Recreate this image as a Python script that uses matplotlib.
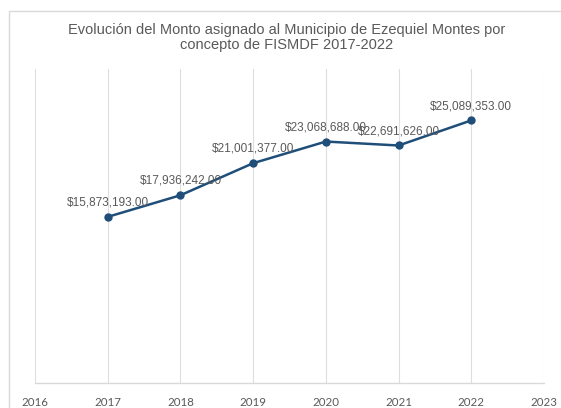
import matplotlib
matplotlib.use("Agg")
import matplotlib.pyplot as plt
from matplotlib.patches import Rectangle
from matplotlib.ticker import FixedLocator, NullLocator

years = [2017, 2018, 2019, 2020, 2021, 2022]
montos = [15873193.00, 17936242.00, 21001377.00, 23068688.00, 22691626.00, 25089353.00]
xticks = [2016, 2017, 2018, 2019, 2020, 2021, 2022, 2023]
title = "Evolución del Monto asignado al Municipio de Ezequiel Montes por\nconcepto de FISMDF 2017-2022"

W, H = 561, 408
fig = plt.figure(figsize=(W / 100, H / 100), dpi=100)
fig.patch.set_facecolor("white")

# outer chart border (cut at right/bottom)
fig.patches.append(Rectangle((9 / W, -0.1), 1.2, (H - 11) / H + 0.1, transform=fig.transFigure,
                             fill=False, edgecolor="#d9d9d9", linewidth=1.0))

ax = fig.add_axes([35 / W, 1 - 383 / H, (544 - 35) / W, (383 - 69) / H])
ax.set_xlim(2016, 2023)
ax.set_ylim(0, 30000000)

ax.plot(years, montos, color="#1f4e79", linewidth=1.8, marker="o", markersize=5, zorder=3)

for x, y in zip(years, montos):
    ax.annotate(f"${y:,.2f}", (x, y), xytext=(0, 6), textcoords="offset points",
                ha="center", va="bottom", fontsize=8.5, color="#595959",
                family="Liberation Sans")

ax.xaxis.set_major_locator(FixedLocator(xticks))
ax.set_xticklabels([str(t) for t in xticks], fontsize=8.3, color="#595959", family="Lato")
ax.yaxis.set_major_locator(NullLocator())
ax.tick_params(axis="x", length=0, pad=10)
ax.grid(axis="x", color="#dedede", linewidth=0.8)
ax.set_axisbelow(True)
for s in ["top", "right", "left"]:
    ax.spines[s].set_visible(False)
ax.spines["bottom"].set_color("#d9d9d9")
ax.spines["bottom"].set_linewidth(1.0)

fig.text(287 / W, 1 - 37.5 / H, title, ha="center", va="center", fontsize=10.5,
         color="#595959", family="Liberation Sans", linespacing=1.05)

fig.savefig("out.png", dpi=100)
